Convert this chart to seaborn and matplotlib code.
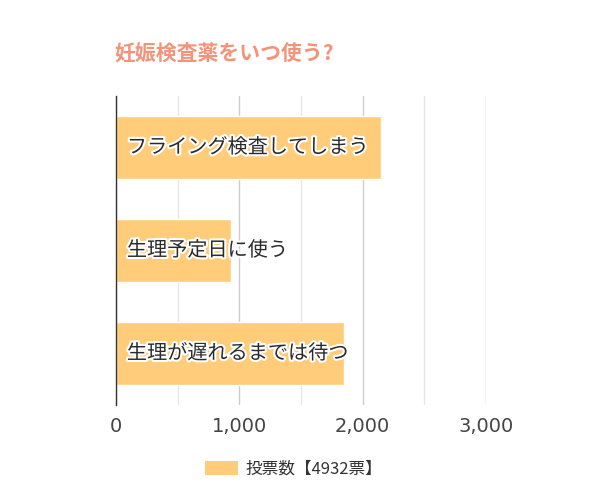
import matplotlib
matplotlib.use("Agg")
import matplotlib.pyplot as plt
import matplotlib.patheffects as pe
from matplotlib.patches import Patch
from matplotlib.ticker import MultipleLocator, FuncFormatter
import pandas as pd
import seaborn as sns

# 投票データ
categories = ["フライング検査してしまう", "生理予定日に使う", "生理が遅れるまでは待つ"]
votes = [2150, 932, 1850]
title = "妊娠検査薬をいつ使う?"
legend_label = "投票数【4932票】"

bar_color = "#FFCC7A"
title_color = "#F4937A"
text_color = "#2b2b2b"

df = pd.DataFrame({"category": categories, "votes": votes})

sns.set_style("white")
plt.rcParams["font.family"] = ["Noto Sans CJK JP", "DejaVu Sans"]

fig = plt.figure(figsize=(6, 5), dpi=100)
ax = fig.add_axes([0.193, 0.19, 0.617, 0.618])

sns.barplot(data=df, x="votes", y="category", color=bar_color,
            saturation=1, width=0.62, ax=ax)

ax.set_xlim(0, 3000)
ax.set_ylim(2.5, -0.5)
ax.xaxis.set_major_locator(MultipleLocator(1000))
ax.xaxis.set_minor_locator(MultipleLocator(500))
ax.xaxis.set_major_formatter(FuncFormatter(lambda v, p: f"{int(v):,}"))
ax.grid(axis="x", which="major", color="#cccccc", linewidth=1)
ax.grid(axis="x", which="minor", color="#e6e6e6", linewidth=1)
ax.set_axisbelow(True)

for s in ["top", "right", "bottom"]:
    ax.spines[s].set_visible(False)
ax.spines["left"].set_color("#333333")
ax.spines["left"].set_linewidth(1)

ax.set_yticks([])
ax.set_xlabel("")
ax.set_ylabel("")
ax.tick_params(axis="x", which="both", length=0, labelsize=14,
               labelcolor="#444444", pad=9)
for lbl in ax.get_xticklabels():
    lbl.set_family(["DejaVu Sans"])

# バーの中のラベル
for i, cat in enumerate(categories):
    ax.text(90, i, cat, va="center", ha="left", fontsize=14.5, color=text_color,
            path_effects=[pe.withStroke(linewidth=3, foreground="white")])

fig.text(0.191, 0.893, title, fontsize=15, fontweight="bold",
         color=title_color, ha="left", va="center",
         family=["Noto Sans CJK JP", "DejaVu Sans"])

handles = [Patch(facecolor=bar_color, edgecolor="none", label=legend_label)]
fig.legend(handles=handles, loc="center", bbox_to_anchor=(0.489, 0.062),
           frameon=False, fontsize=12, handlelength=2.0, handleheight=0.9,
           handletextpad=0.45, labelcolor="#333333")

fig.savefig("out.png", dpi=100)
